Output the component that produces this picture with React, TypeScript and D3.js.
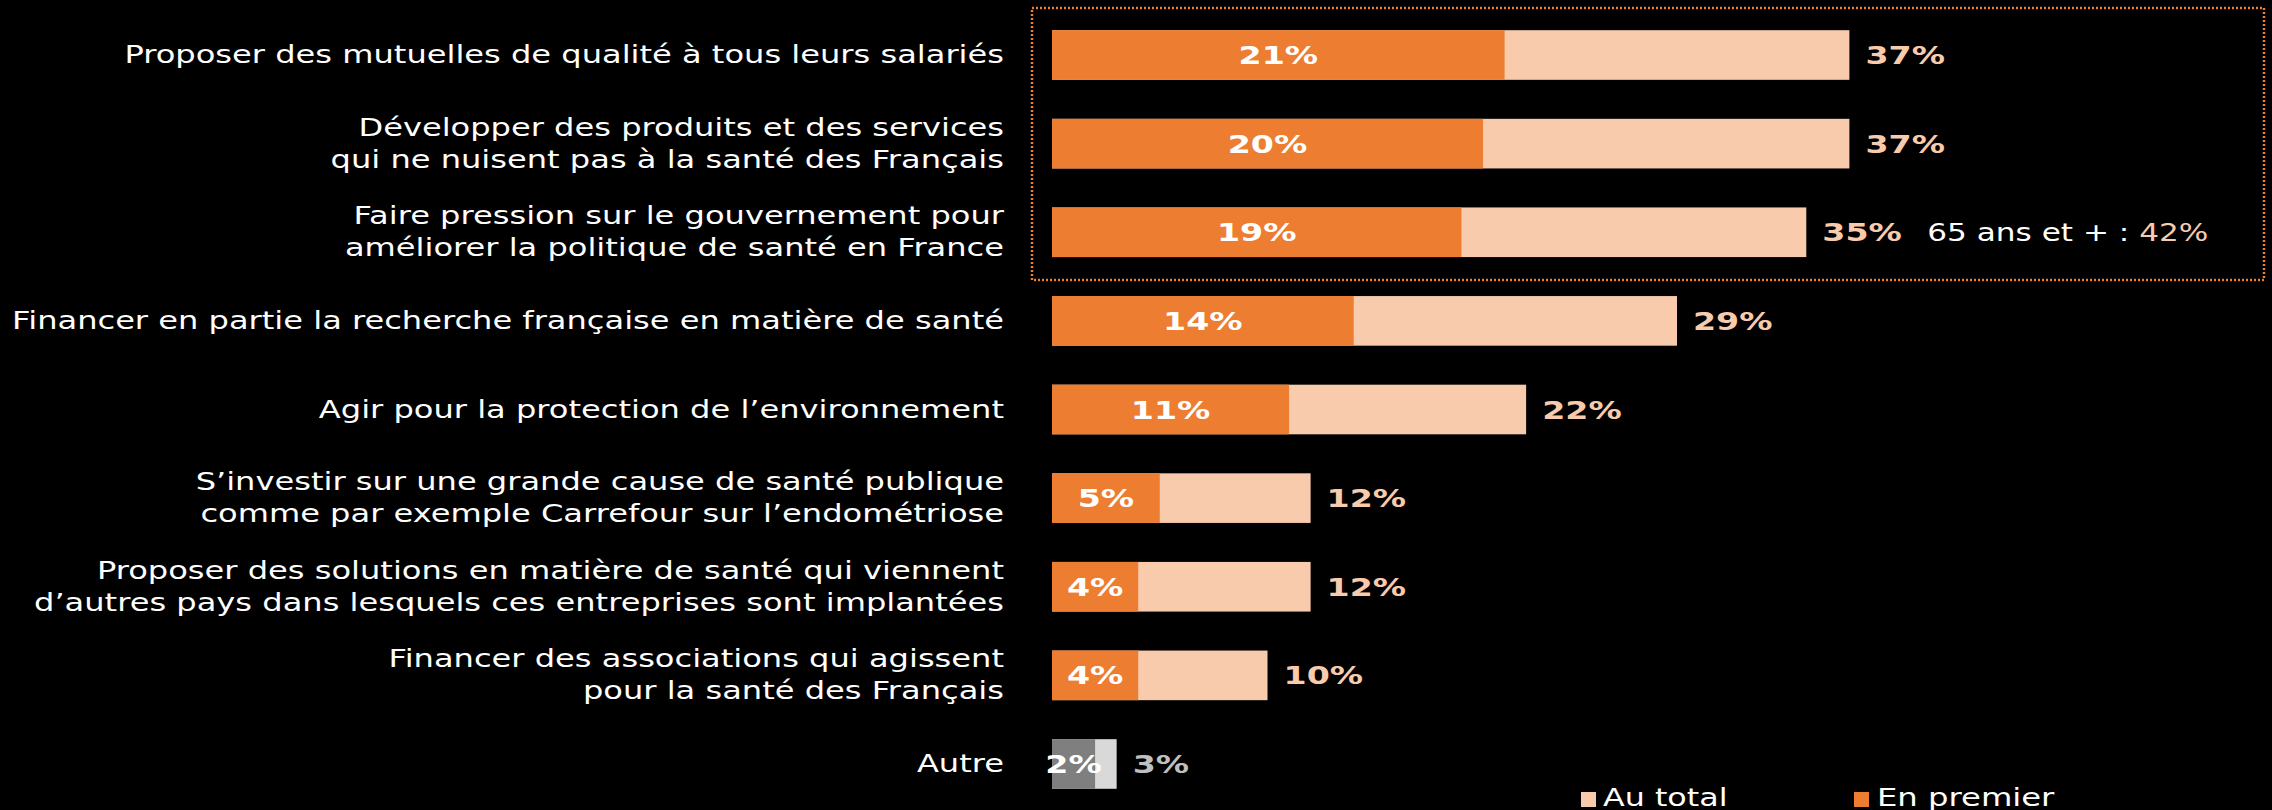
import React from "react";
import * as d3 from "d3";

// data
const categories = [
  ["Proposer des mutuelles de qualité à tous leurs salariés"],
  ["Développer des produits et des services", "qui ne nuisent pas à la santé des Français"],
  ["Faire pression sur le gouvernement pour", "améliorer la politique de santé en France"],
  ["Financer en partie la recherche française en matière de santé"],
  ["Agir pour la protection de l’environnement"],
  ["S’investir sur une grande cause de santé publique", "comme par exemple Carrefour sur l’endométriose"],
  ["Proposer des solutions en matière de santé qui viennent", "d’autres pays dans lesquels ces entreprises sont implantées"],
  ["Financer des associations qui agissent", "pour la santé des Français"],
  ["Autre"],
];
const enPremier = [21, 20, 19, 14, 11, 5, 4, 4, 2];
const auTotal = [37, 37, 35, 29, 22, 12, 12, 10, 3];
const seriesNames = ["Au total", "En premier"];
const note = { index: 2, prefix: "65 ans et + : ", value: "42%" };

const W = 2272;
const H = 810;
const ORANGE = "#ED7D31";
const PEACH = "#F8CBAD";
const FONT = "DejaVu Sans";
// the original font is an extended grotesque, so stretch DejaVu horizontally
const SX_LABEL = 1.31;
const SX_BOLD = 1.33;
const SX_SMALL = 1.27;

export default function App() {
  const ids = categories.map((_, i) => String(i));
  const y = d3
    .scaleBand()
    .domain(ids)
    .range([10.7, 808.3])
    .paddingInner(0.44)
    .paddingOuter(0.22);
  const x = d3.scaleLinear().domain([0, 37]).range([1052, 1849.4]);
  const bh = y.bandwidth();

  const txt = (
    s: React.ReactNode,
    tx: number,
    ty: number,
    opts: { anchor?: string; bold?: boolean; fill?: string; size?: number; sx: number }
  ) => (
    <text
      transform={`translate(${tx},${ty}) scale(${opts.sx},1)`}
      textAnchor={opts.anchor || "start"}
      fontFamily={FONT}
      fontWeight={opts.bold ? "bold" : "normal"}
      fontSize={opts.size || 24}
      fill={opts.fill || "#fff"}
    >
      {s}
    </text>
  );

  return (
    <svg
      width={W}
      height={H}
      style={{ position: "absolute", left: 0, top: 0, background: "#000" }}
    >
      <rect width={W} height={H} fill="#000" />
      <rect
        x={1032}
        y={8}
        width={1232}
        height={272}
        fill="none"
        stroke={ORANGE}
        strokeWidth={2.5}
        strokeDasharray="2 2"
      />
      {categories.map((lines, i) => {
        const cy = (y(String(i)) as number) + bh / 2;
        const isOther = i === categories.length - 1;
        const dark = isOther ? "#7F7F7F" : ORANGE;
        const light = isOther ? "#D9D9D9" : PEACH;
        const outFill = isOther ? "#BFBFBF" : PEACH;
        const off = lines.length === 1 ? [0] : [-16, 16];
        const outX = x(auTotal[i]) + 16;
        return (
          <g key={i}>
            {lines.map((l, j) => (
              <g key={j}>
                {txt(l, 1004, cy + 8 + off[j], { anchor: "end", size: 24.5, sx: SX_LABEL })}
              </g>
            ))}
            <rect x={x(0)} y={cy - bh / 2} width={x(auTotal[i]) - x(0)} height={bh} fill={light} />
            <rect x={x(0)} y={cy - bh / 2} width={x(enPremier[i]) - x(0)} height={bh} fill={dark} />
            {txt(enPremier[i] + "%", (x(0) + x(enPremier[i])) / 2, cy + 9, {
              anchor: "middle",
              bold: true,
              size: 25,
              sx: SX_BOLD,
            })}
            {txt(auTotal[i] + "%", outX, cy + 9, { bold: true, fill: outFill, size: 25, sx: SX_BOLD })}
            {i === note.index &&
              txt(
                <>
                  <tspan fill="#fff">{note.prefix}</tspan>
                  <tspan fill={PEACH}>{note.value}</tspan>
                </>,
                outX + 105,
                cy + 9,
                { size: 25, sx: 1.245 }
              )}
          </g>
        );
      })}
      <g>
        <rect x={1581} y={792} width={15} height={15} fill={PEACH} />
        {txt(seriesNames[0], 1603, 806, { size: 25, sx: SX_SMALL })}
        <rect x={1854} y={792} width={15} height={15} fill={ORANGE} />
        {txt(seriesNames[1], 1877, 806, { size: 25, sx: 1.29 })}
      </g>
    </svg>
  );
}
